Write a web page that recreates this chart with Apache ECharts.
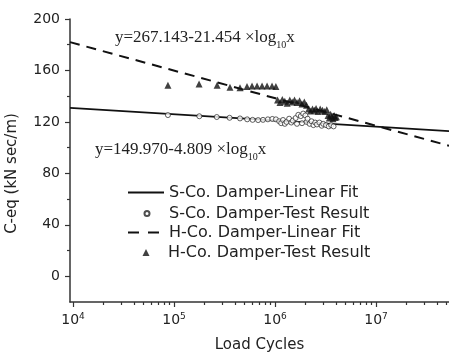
<!DOCTYPE html>
<html>
<head>
<meta charset="utf-8">
<script src="https://cdn.jsdelivr.net/npm/echarts@6/dist/echarts.min.js"></script>
<style>html,body{margin:0;padding:0;background:#fff;}#c{width:449px;height:353px;}</style>
</head>
<body>
<div id="c"></div>
<script>
// ---- data ----
const xMinCycles = 9330;
const xMaxCycles = 5.28e7;
const fitCycles = [9330, 5.28e7];
const sFitValues = [130.9, 112.8];
const hFitValues = [182.0, 101.5];

const sTestCycles = [87000,178000,265000,355000,450000,530000,600000,680000,760000,850000,940000,1020000,
  1100000,1150000,1200000,1250000,1300000,1380000,1450000,1500000,1600000,1650000,1700000,1800000,1850000,1900000,
  2000000,2050000,2100000,2200000,2300000,2400000,2500000,2600000,2750000,2900000,3000000,3200000,3400000,3600000,3800000];
const sTestValues = [125.3,124.4,123.8,123.2,122.7,122.0,121.6,121.4,121.6,122.0,122.3,122.0,
  120.5,119.0,121.5,118.5,120.0,122.5,119.5,121.0,123.0,118.5,125.5,124.5,119.0,126.5,
  125.0,120.0,122.5,118.5,120.5,117.5,119.5,118.0,119.5,117.0,118.5,117.5,116.5,117.5,116.5];

const hTestCycles = [87000,177000,267000,358000,450000,528000,592000,664000,744000,834000,934000,1020000,
  1060000,1120000,1180000,1250000,1320000,1400000,1480000,1560000,1650000,1750000,1850000,1950000,2050000,
  2150000,2250000,2350000,2450000,2550000,2650000,2800000,2950000,3100000,3250000,
  3350000,3450000,3550000,3650000,3750000,3850000,3950000,4050000];
const hTestValues = [148.5,149.5,148.5,147.0,146.5,147.5,148.0,148.0,148.0,148.0,148.0,147.5,
  137.0,135.0,137.5,136.0,134.5,137.0,135.5,137.0,135.0,136.5,134.0,135.5,133.0,
  130.0,128.5,130.0,129.0,130.5,128.0,130.0,129.0,128.0,129.5,
  125.0,123.0,126.0,124.0,122.5,125.0,123.5,124.0];

const xMajorTicks = [1e4, 1e5, 1e6, 1e7];
const xMinorTicks = [2e4,3e4,4e4,5e4,6e4,7e4,8e4,9e4,2e5,3e5,4e5,5e5,6e5,7e5,8e5,9e5,
  2e6,3e6,4e6,5e6,6e6,7e6,8e6,9e6,2e7,3e7,4e7,5e7];
const yMajorTicks = [0, 40, 80, 120, 160, 200];
const yMinorTicks = [20, 60, 100, 140, 180];

const seriesNames = ['S-Co. Damper-Linear Fit','S-Co. Damper-Test Result','H-Co. Damper-Linear Fit','H-Co. Damper-Test Result'];

// ---- build ----
const lg = v => Math.log10(v);
const pairs = (xs, ys) => xs.map((x, i) => [lg(x), ys[i]]);

const sans = 'DejaVu Sans';
const serif = 'Liberation Serif';
const ink = '#111';
const axisInk = '#333';
const textInk = '#222';

const xCommon = {
  type: 'value', min: lg(xMinCycles), max: lg(xMaxCycles), position: 'bottom',
  splitLine: {show: false}
};
const yCommon = {
  type: 'value', min: -20, max: 200, position: 'left', splitLine: {show: false}
};

const legendText = {fontFamily: sans, fontSize: 16, color: textInk};
const hidden = 'rgba(0,0,0,0)';
const legendTop = 184.5, legendStep = 20;
const legends = [
  {left: 127, top: legendTop, itemWidth: 36, itemHeight: 7, data: [seriesNames[0]],
   itemStyle: {color: hidden, borderColor: hidden, borderWidth: 0}},
  {left: 143.5, top: legendTop + legendStep + 1, itemWidth: 5, itemHeight: 5, data: [seriesNames[1]],
   textStyle: Object.assign({padding: [0, 0, 0, 14.5]}, legendText)},
  {left: 127, top: legendTop + 2 * legendStep, itemWidth: 36, itemHeight: 7, data: [seriesNames[2]],
   itemStyle: {color: hidden, borderColor: hidden, borderWidth: 0},
   lineStyle: {type: [11, 9]}},
  {left: 142.5, top: legendTop + 3 * legendStep, itemWidth: 7, itemHeight: 7, data: [seriesNames[3]],
   textStyle: Object.assign({padding: [0, 0, 0, 13.5]}, legendText)}
].map(l => Object.assign({orient: 'vertical', padding: 0, textStyle: legendText, selectedMode: false}, l));

const chart = echarts.init(document.getElementById('c'), null, {renderer: 'canvas'});
chart.setOption({
  animation: false,
  backgroundColor: '#fff',
  grid: {left: 70, top: 19, right: 0, bottom: 51, containLabel: false, outerBoundsMode: 'none'},
  xAxis: [
    Object.assign({}, xCommon, {
      name: 'Load Cycles', nameLocation: 'middle', nameGap: 36,
      nameTextStyle: {fontFamily: sans, fontSize: 15, color: textInk},
      axisLine: {show: true, onZero: false, lineStyle: {color: axisInk, width: 1.5}},
      axisTick: {show: true, length: 5, customValues: xMajorTicks.map(lg), lineStyle: {color: axisInk, width: 1.2}},
      axisLabel: {
        customValues: xMajorTicks.map(lg), margin: 10,
        formatter: v => '{b|10}{s|' + Math.round(v) + '}',
        rich: {
          b: {fontFamily: sans, fontSize: 14, color: textInk, lineHeight: 16},
          s: {fontFamily: sans, fontSize: 9, color: textInk, verticalAlign: 'top', lineHeight: 9}
        }
      }
    }),
    Object.assign({}, xCommon, {
      axisLine: {show: false, onZero: false},
      axisTick: {show: true, length: 3, customValues: xMinorTicks.map(lg), lineStyle: {color: axisInk, width: 1.2}},
      axisLabel: {show: false}
    })
  ],
  yAxis: [
    Object.assign({}, yCommon, {
      name: 'C-eq (kN sec/m)', nameLocation: 'middle', nameGap: 50,
      nameTextStyle: {fontFamily: sans, fontSize: 15, color: textInk, padding: [0, 26, 0, 0]},
      axisLine: {show: true, onZero: false, lineStyle: {color: axisInk, width: 1.5}},
      axisTick: {show: true, length: 5, customValues: yMajorTicks, lineStyle: {color: axisInk, width: 1.2}},
      axisLabel: {customValues: yMajorTicks, margin: 10, fontFamily: sans, fontSize: 14, color: textInk}
    }),
    Object.assign({}, yCommon, {
      axisLine: {show: false, onZero: false},
      axisTick: {show: true, length: 3, customValues: yMinorTicks, lineStyle: {color: axisInk, width: 1.2}},
      axisLabel: {show: false}
    })
  ],
  legend: legends,
  graphic: [
    {type: 'text', left: 115, top: 29, silent: true, style: {
      text: '{m|y=267.143-21.454 ×log}{u|10}{m|x}',
      rich: {m: {fontFamily: serif, fontSize: 17, fill: textInk, lineHeight: 18, verticalAlign: 'bottom'},
             u: {fontFamily: serif, fontSize: 10, fill: textInk, lineHeight: 10, verticalAlign: 'bottom', padding: [0,0,-4,0]}}
    }},
    {type: 'text', left: 95, top: 141, silent: true, style: {
      text: '{m|y=149.970-4.809 ×log}{u|10}{m|x}',
      rich: {m: {fontFamily: serif, fontSize: 17, fill: textInk, lineHeight: 18, verticalAlign: 'bottom'},
             u: {fontFamily: serif, fontSize: 10, fill: textInk, lineHeight: 10, verticalAlign: 'bottom', padding: [0,0,-4,0]}}
    }}
  ],
  series: [
    {name: seriesNames[0], type: 'line', data: pairs(fitCycles, sFitValues), showSymbol: false, symbol: 'none',
     lineStyle: {color: ink, width: 1.8}, itemStyle: {color: ink}, z: 2},
    {name: seriesNames[1], type: 'scatter', data: pairs(sTestCycles, sTestValues), symbol: 'circle', symbolSize: 5,
     itemStyle: {color: '#fff', borderColor: '#222', borderWidth: 0.9}, z: 4},
    {name: seriesNames[2], type: 'line', data: pairs(fitCycles, hFitValues), showSymbol: false, symbol: 'none',
     lineStyle: {color: ink, width: 2, type: [10, 7]}, itemStyle: {color: ink}, z: 2},
    {name: seriesNames[3], type: 'scatter', data: pairs(hTestCycles, hTestValues), symbol: 'triangle', symbolSize: 7,
     itemStyle: {color: ink}, z: 3}
  ]
});
</script>
</body>
</html>
